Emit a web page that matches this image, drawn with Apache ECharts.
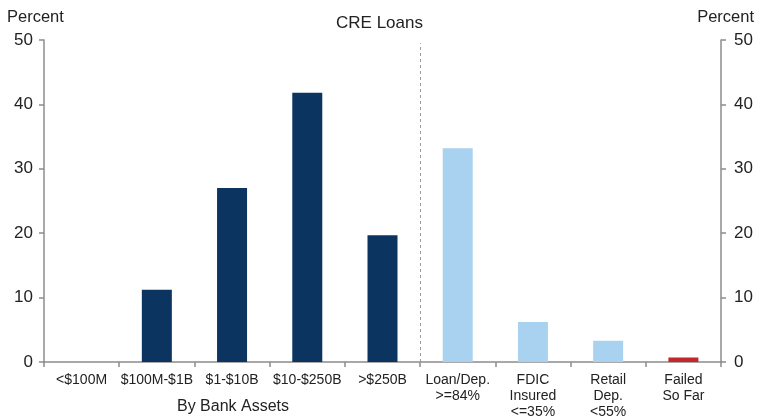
<!DOCTYPE html>
<html>
<head>
<meta charset="utf-8">
<script src="https://cdn.jsdelivr.net/npm/echarts@6/dist/echarts.min.js"></script>
<style>
  html, body { margin: 0; padding: 0; background: #fff; }
  #chart { width: 759px; height: 417px; }
</style>
</head>
<body>
<div id="chart"></div>
<script>
// CRE loan exposure: bank-size groups, then bank-characteristic groups
const categories = ['<$100M', '$100M-$1B', '$1-$10B', '$10-$250B', '>$250B',
  'Loan/Dep.\n>=84%', 'FDIC\nInsured\n<=35%', 'Retail\nDep.\n<55%', 'Failed\nSo Far'];
const values = [0, 11.2, 27.0, 41.8, 19.7, 33.2, 6.2, 3.3, 0.7];
// 0 = by bank assets, 1 = by characteristic, 2 = failed banks
const groups = [0, 0, 0, 0, 0, 1, 1, 1, 2];
const sizeGroupCount = 5;
const yTicks = [0, 10, 20, 30, 40, 50];
const dividerTop = 49.5;

const groupColors = ['#0b3461', '#a9d2f0', '#c1272d'];
const font = 'Liberation Sans, Arial, sans-serif';
const textColor = '#222';
const axisColor = '#8c8c8c';

const chart = echarts.init(document.getElementById('chart'), null, { renderer: 'canvas' });

function yAxisFor(position) {
  return {
    type: 'value',
    position: position,
    min: yTicks[0],
    max: yTicks[yTicks.length - 1],
    interval: yTicks[1] - yTicks[0],
    splitLine: { show: false },
    axisLine: { show: true, lineStyle: { color: axisColor, width: 1.5 } },
    axisTick: { show: true, length: 5, lineStyle: { color: axisColor, width: 1.5 } },
    axisLabel: { color: textColor, fontSize: 17, fontFamily: font, margin: position === 'left' ? 11 : 13 }
  };
}

const titleText = { fontWeight: 'normal', color: textColor, fontFamily: font };

chart.setOption({
  animation: false,
  textStyle: { fontFamily: font },
  title: [
    { text: 'CRE Loans', left: 'center', top: 10,
      textStyle: Object.assign({ fontSize: 17 }, titleText) },
    { text: 'Percent', left: 2, top: 4,
      textStyle: Object.assign({ fontSize: 16.5 }, titleText) },
    { text: 'Percent', right: 0, top: 4,
      textStyle: Object.assign({ fontSize: 16.5 }, titleText) },
    { text: 'By Bank Assets', left: 228, top: 394, textAlign: 'center',
      textStyle: Object.assign({ fontSize: 16 }, titleText) }
  ],
  grid: { left: 44, right: 38, top: 40, bottom: 55, containLabel: false, outerBoundsMode: 'none' },
  xAxis: [
    {
      type: 'category',
      data: categories,
      axisLine: { show: true, lineStyle: { color: axisColor, width: 1.5 } },
      axisTick: { show: true, alignWithLabel: false, length: 5, lineStyle: { color: axisColor, width: 1.5 } },
      axisLabel: { color: textColor, fontSize: 14, fontFamily: font, margin: 10, lineHeight: 16, interval: 0 },
      splitLine: { show: false }
    },
    {
      // hidden linear axis used to place the group divider between categories
      type: 'value', min: 0, max: categories.length, show: false
    }
  ],
  yAxis: [yAxisFor('left'), yAxisFor('right')],
  series: [
    {
      type: 'bar',
      xAxisIndex: 0,
      yAxisIndex: 0,
      barWidth: 30,
      data: values.map((v, i) => ({ value: v, itemStyle: { color: groupColors[groups[i]] } }))
    },
    {
      type: 'scatter',
      xAxisIndex: 1,
      yAxisIndex: 0,
      data: [],
      markLine: {
        silent: true,
        symbol: ['none', 'none'],
        label: { show: false },
        lineStyle: { color: '#9a9a9a', type: [3, 3], width: 1 },
        data: [[{ coord: [sizeGroupCount, yTicks[0]] }, { coord: [sizeGroupCount, dividerTop] }]]
      }
    }
  ]
});
</script>
</body>
</html>
